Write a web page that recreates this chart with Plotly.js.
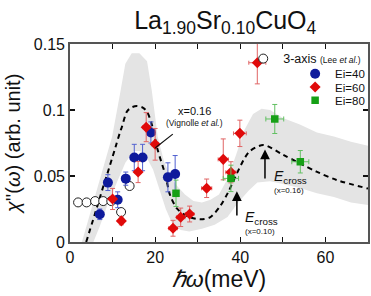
<!DOCTYPE html>
<html><head><meta charset="utf-8">
<script src="https://cdn.plot.ly/plotly-3.0.1.min.js"></script>
<style>html,body{margin:0;padding:0;background:#fff}#c{width:371px;height:296px}</style>
</head><body><div id="c"></div>
<script>
// ---- data ----
const bandUpperX = [2.8, 5, 7, 9, 9.9, 11.8, 13, 14.5, 16.3, 18.1, 19.2, 20.6, 22, 23.5, 25, 27, 29, 31, 33, 35, 37, 39, 41, 43, 45, 47, 50, 54, 58, 62, 66, 70];
const bandUpperY = [0, 0.025, 0.047, 0.07, 0.08, 0.113, 0.135, 0.143, 0.143, 0.137, 0.115, 0.08, 0.062, 0.05, 0.043, 0.036, 0.031, 0.03, 0.032, 0.036, 0.048, 0.066, 0.085, 0.097, 0.101, 0.1, 0.094, 0.089, 0.083, 0.08, 0.076, 0.073];
const bandLowerX = [5.5, 7, 9, 11, 13, 15, 16.5, 18, 19.5, 21, 22.5, 24, 26, 28, 31, 34, 37, 39.5, 42, 44, 47, 50, 54, 58, 62, 66, 70];
const bandLowerY = [0, 0.012, 0.03, 0.045, 0.06, 0.069, 0.069, 0.064, 0.055, 0.04, 0.025, 0.014, 0.009, 0.008, 0.01, 0.013, 0.019, 0.03, 0.039, 0.045, 0.046, 0.044, 0.041, 0.037, 0.034, 0.03, 0.028];

const vigX = [3.8, 6.4, 7.9, 8.7, 10.7, 11.8, 12.2, 13.4, 14.5, 15.7, 17, 18.1, 19.3, 20.6, 22.4, 23.5, 25.1, 27.4, 30.6, 32.9, 35.2, 37.2, 39.2, 41.1, 42.3, 45.4, 50.1, 54.0, 57.9, 62.6, 70];
const vigY = [0, 0.027, 0.043, 0.051, 0.072, 0.0836, 0.0873, 0.099, 0.102, 0.103, 0.102, 0.0987, 0.088, 0.0697, 0.0508, 0.0356, 0.0255, 0.0197, 0.0172, 0.0187, 0.0268, 0.038, 0.052, 0.064, 0.069, 0.0735, 0.066, 0.0596, 0.0533, 0.047, 0.0405];

const leeX = [1.9, 3.9, 5.9, 7.8, 9.7, 12.0, 14.0];
const leeY = [0.030, 0.030, 0.031, 0.031, 0.031, 0.0227, 0.0424];

const ei40X = [7.0, 8.9, 11.2, 13.1, 15.1, 17.05, 19.0, 23.0, 24.7];
const ei40Y = [0.021, 0.045, 0.032, 0.048, 0.064, 0.064, 0.083, 0.049, 0.0515];
const ei40E = [0.004, 0.006, 0.006, 0.005, 0.010, 0.010, 0.008, 0.011, 0.014];

const ei60X = [10.0, 12.06, 16.0, 17.9, 20.0, 24.2, 26.0, 28.1, 32.1, 36.0, 37.8, 39.9, 44.0];
const ei60Y = [0.0326, 0.016, 0.053, 0.087, 0.074, 0.0104, 0.0187, 0.0212, 0.0407, 0.0626, 0.0528, 0.0823, 0.1358];
const ei60E = [0.008, 0.003, 0.008, 0.011, 0.012, 0.006, 0.007, 0.006, 0.007, 0.0155, 0.008, 0.010, 0.016];
const ei60XE = [0.7, 0.7, 0.7, 0.8, 0.8, 1.0, 1.0, 1.0, 1.2, 1.2, 1.2, 1.5, 2.0];

const ei80X = [24.9, 37.8, 48.1, 54.1];
const ei80Y = [0.0369, 0.0482, 0.0932, 0.0608];
const ei80E = [0.010, 0.010, 0.011, 0.0085];
const ei80XE = [0.5, 1.8, 2.1, 2.0];

const xTicks = [0, 20, 40, 60];
const yTicks = [0, 0.05, 0.1, 0.15];

// ---- build ----
const FONT = 'Arial, "Liberation Sans", sans-serif';
const bandX = bandUpperX.concat(bandLowerX.slice().reverse());
const bandY = bandUpperY.concat(bandLowerY.slice().reverse());

const traces = [
  {x: bandX, y: bandY, mode: 'lines', fill: 'toself', fillcolor: '#e4e4e4', line: {width: 0, color: '#e4e4e4'}, showlegend: false, hoverinfo: 'skip'},
  {x: vigX, y: vigY, mode: 'lines', line: {color: '#000', width: 2, dash: '5px,4px', shape: 'spline', smoothing: 0.8}, showlegend: false},
  {x: leeX, y: leeY, mode: 'markers', name: "3-axis <span style='font-size:8.5px'>(Lee <i>et al.</i>)</span>",
   marker: {symbol: 'circle', size: 9, color: '#fff', line: {color: '#222', width: 1}}, legend: 'legend'},
  {x: ei40X, y: ei40Y, mode: 'markers', name: 'Ei=40',
   error_y: {type: 'data', array: ei40E, color: '#5060d0', thickness: 1, width: 2.5},
   marker: {symbol: 'circle', size: 10, color: '#0e1a9c'}, legend: 'legend2'},
  {x: ei60X, y: ei60Y, mode: 'markers', name: 'Ei=60',
   error_y: {type: 'data', array: ei60E, color: '#e06464', thickness: 1, width: 2.5},
   error_x: {type: 'data', array: ei60XE, color: '#e06464', thickness: 1, width: 2},
   marker: {symbol: 'diamond', size: 8.5, color: '#e00a0a'}, legend: 'legend3'},
  {x: ei80X, y: ei80Y, mode: 'markers', name: 'Ei=80',
   error_y: {type: 'data', array: ei80E, color: '#62c062', thickness: 1, width: 2.5},
   error_x: {type: 'data', array: ei80XE, color: '#62c062', thickness: 1, width: 2.5},
   marker: {symbol: 'square', size: 7.5, color: '#16a016'}, legend: 'legend4'}
];

const W = 371, H = 296, L = 69.5, R = 3, T = 43.5, B = 54;
const pw = W - L - R, ph = H - T - B;
function px2paperX(p) { return (p - L) / pw; }
function py2paperY(p) { return (H - B - p) / ph; }

function leg(px, py, size) {
  return {x: px2paperX(px), y: py2paperY(py), xanchor: 'left', yanchor: 'middle', bgcolor: 'rgba(0,0,0,0)',
          font: {family: FONT, size: size, color: '#111'}, borderwidth: 0, itemwidth: 30};
}

const layout = {
  width: W, height: H,
  margin: {l: L, r: R, t: T, b: B, pad: 0, autoexpand: false},
  paper_bgcolor: '#fff', plot_bgcolor: '#fff',
  font: {family: FONT, color: '#111'},
  title: {text: 'La<sub>1.90</sub>Sr<sub>0.10</sub>CuO<sub>4</sub>', font: {family: FONT, size: 25, color: '#111'},
          x: px2paperX(225), xref: 'paper', xanchor: 'center', y: 1 - 20 / H, yref: 'container', yanchor: 'middle'},
  xaxis: {range: [0, 70], tickvals: xTicks, ticktext: xTicks.map(String), ticks: 'inside', ticklen: 5, tickwidth: 1.2, tickcolor: '#111',
          minor: {dtick: 10, tick0: 0, ticks: 'inside', ticklen: 5, tickcolor: '#111', showgrid: false},
          showline: true, linecolor: '#555', linewidth: 1.8, mirror: 'ticks', showgrid: false, zeroline: false,
          tickfont: {family: FONT, size: 16, color: '#111'},
          title: {text: '<i>ℏω</i>(meV)', font: {family: FONT, size: 23, color: '#111'}, standoff: 6}},
  yaxis: {range: [0, 0.15], tickvals: yTicks, ticktext: ['0', '0.05', '0.1', '0.15'], ticks: 'inside', ticklen: 5, tickwidth: 1.2, tickcolor: '#111',
          showline: true, linecolor: '#555', linewidth: 1.8, mirror: 'ticks', showgrid: false, zeroline: false,
          tickfont: {family: FONT, size: 16, color: '#111'},
          title: {text: "<i>χ</i>''(<i>ω</i>) (arb. unit)", font: {family: FONT, size: 20, color: '#111'}, standoff: 8}},
  showlegend: true,
  legend: leg(243, 58.5, 12.5),
  legend2: leg(295, 73.3, 11.5),
  legend3: leg(295, 86.7, 11.5),
  legend4: leg(295, 100, 11.5),
  annotations: [
    {x: 29.2, y: 0.0992, xref: 'x', yref: 'y', text: 'x=0.16', showarrow: false, font: {family: FONT, size: 11, color: '#111'}, xanchor: 'center', yanchor: 'middle'},
    {x: 29.2, y: 0.0904, xref: 'x', yref: 'y', text: '(Vignolle <i>et al.</i>)', showarrow: false, font: {family: FONT, size: 8.5, color: '#111'}, xanchor: 'center', yanchor: 'middle'},
    {x: 20.0, y: 0.0712, ax: 24.5, ay: 0.0826, xref: 'x', yref: 'y', axref: 'x', ayref: 'y', text: '', showarrow: true, arrowhead: 0, arrowwidth: 1.2, arrowcolor: '#111', standoff: 0},
    {x: 45.8, y: 0.070, ax: 45.8, ay: 0.047, xref: 'x', yref: 'y', axref: 'x', ayref: 'y', text: '', showarrow: true, arrowhead: 2, arrowsize: 1.3, arrowwidth: 1.5, arrowcolor: '#000', standoff: 0},
    {x: 39.2, y: 0.0385, ax: 39.2, ay: 0.019, xref: 'x', yref: 'y', axref: 'x', ayref: 'y', text: '', showarrow: true, arrowhead: 2, arrowsize: 1.3, arrowwidth: 1.5, arrowcolor: '#000', standoff: 0},
    {x: 47.5, y: 0.0495, xref: 'x', yref: 'y', text: '<i>E</i><sub>cross</sub>', showarrow: false, font: {family: FONT, size: 14, color: '#111'}, xanchor: 'left', yanchor: 'middle'},
    {x: 47.5, y: 0.0392, xref: 'x', yref: 'y', text: '(x=0.16)', showarrow: false, font: {family: FONT, size: 8, color: '#111'}, xanchor: 'left', yanchor: 'middle'},
    {x: 40.7, y: 0.0184, xref: 'x', yref: 'y', text: '<i>E</i><sub>cross</sub>', showarrow: false, font: {family: FONT, size: 14, color: '#111'}, xanchor: 'left', yanchor: 'middle'},
    {x: 40.7, y: 0.0083, xref: 'x', yref: 'y', text: '(x=0.10)', showarrow: false, font: {family: FONT, size: 8, color: '#111'}, xanchor: 'left', yanchor: 'middle'}
  ]
};

Plotly.newPlot('c', traces, layout, {staticPlot: true, displayModeBar: false});
</script>
</body></html>
